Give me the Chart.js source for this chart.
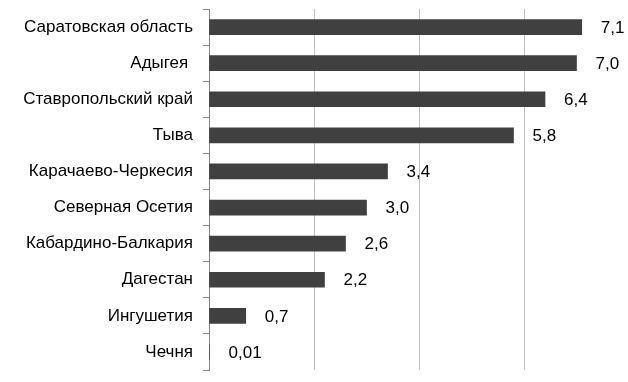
<!DOCTYPE html>
<html>
<head>
<meta charset="utf-8">
<script src="https://cdn.jsdelivr.net/npm/chart.js@4/dist/chart.umd.min.js"></script>
<style>
  html, body { margin: 0; padding: 0; background: #ffffff; }
  #wrap { width: 628px; height: 382px; overflow: hidden; position: relative; }
  canvas { display: block; }
</style>
</head>
<body>
<div id="wrap"><canvas id="c" width="640" height="382"></canvas></div>
<script>
const categories = [
  "Саратовская область",
  "Адыгея ",
  "Ставропольский край",
  "Тыва",
  "Карачаево-Черкесия",
  "Северная Осетия",
  "Кабардино-Балкария",
  "Дагестан",
  "Ингушетия",
  "Чечня"
];
const values = [7.1, 7.0, 6.4, 5.8, 3.4, 3.0, 2.6, 2.2, 0.7, 0.01];
const xTicks = [0, 2, 4, 6, 8];

function fmt(v) {
  return v.toFixed(v < 0.1 ? 2 : 1).replace('.', ',');
}

const FONT = '"Liberation Sans", Arial, sans-serif';

const valueLabels = {
  id: 'valueLabels',
  afterDatasetsDraw(chart) {
    const ctx = chart.ctx;
    const meta = chart.getDatasetMeta(0);
    ctx.save();
    ctx.font = '17px ' + FONT;
    ctx.fillStyle = '#000000';
    ctx.textAlign = 'left';
    ctx.textBaseline = 'middle';
    meta.data.forEach((bar, i) => {
      ctx.fillText(fmt(values[i]), bar.x + 19, bar.y + 1);
    });
    ctx.restore();
  }
};

new Chart(document.getElementById('c'), {
  type: 'bar',
  data: {
    labels: categories,
    datasets: [{
      data: values,
      backgroundColor: '#404040',
      borderWidth: 0,
      barThickness: 15
    }]
  },
  options: {
    indexAxis: 'y',
    responsive: false,
    animation: false,
    events: [],
    layout: { padding: { top: 9, bottom: 12, right: 11, left: 0 } },
    plugins: { legend: { display: false }, tooltip: { enabled: false } },
    scales: {
      x: {
        min: 0,
        max: 8,
        afterBuildTicks(scale) { scale.ticks = xTicks.map(v => ({ value: v })); },
        afterFit(scale) { scale.height = 0; scale.paddingLeft = 0; scale.paddingRight = 0; },
        ticks: { display: false },
        grid: { color: '#c0c0c0', lineWidth: 1, drawTicks: false },
        border: { display: false }
      },
      y: {
        afterFit(scale) { scale.width = 209; scale.paddingTop = 0; scale.paddingBottom = 0; },
        ticks: {
          color: '#000000',
          padding: 10,
          font: { family: FONT, size: 17 }
        },
        grid: { drawOnChartArea: false, drawTicks: true, tickLength: 6, color: '#868686', offset: true },
        border: { display: true, color: '#868686', width: 1 }
      }
    }
  },
  plugins: [valueLabels]
});
</script>
</body>
</html>
